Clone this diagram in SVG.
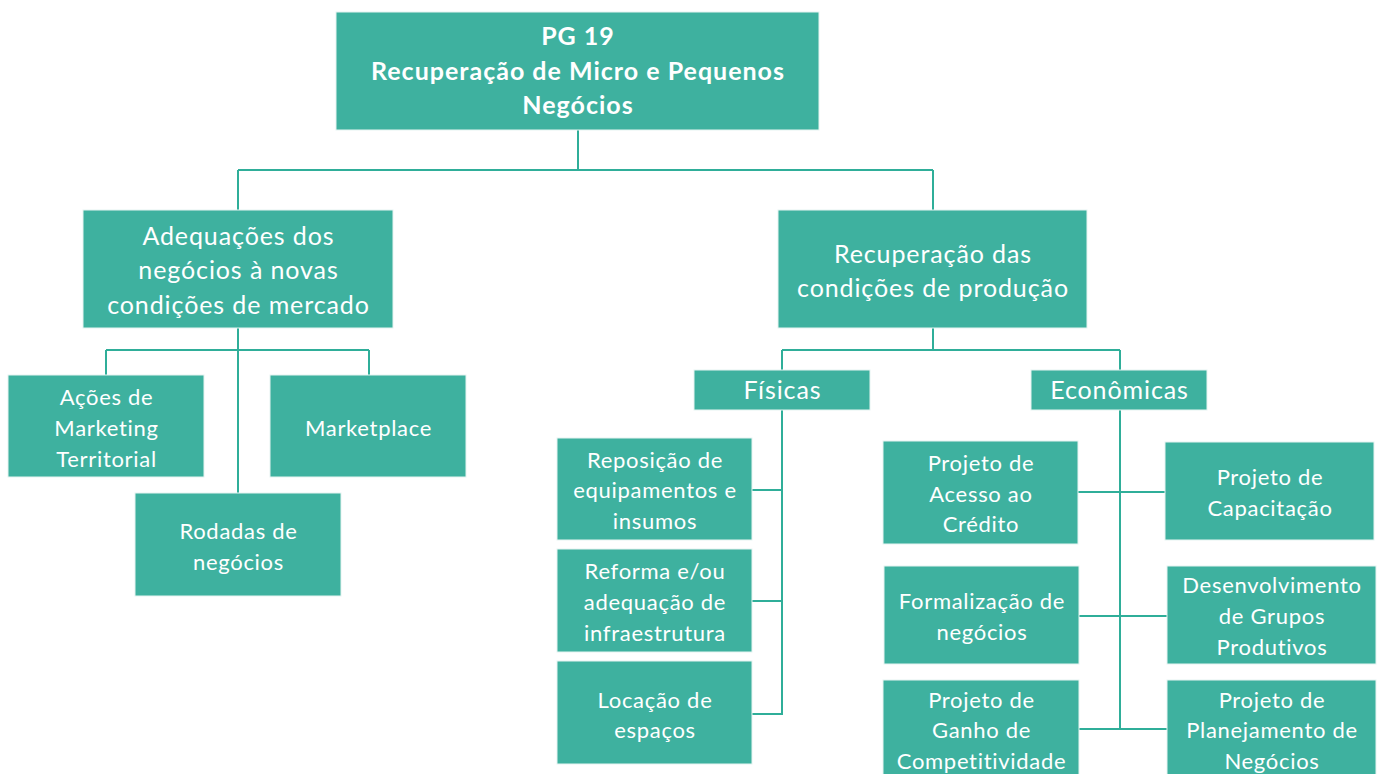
<svg xmlns="http://www.w3.org/2000/svg" width="1380" height="774" viewBox="0 0 1380 774">
<style>
.box{fill:#3EB19F;stroke:#E6F4F1;stroke-width:1}
.t{fill:#FFFFFF;font-family:Lato,"Open Sans","Liberation Sans",sans-serif;text-anchor:middle;font-variant-ligatures:none}
.b{font-weight:bold;font-size:25px;letter-spacing:1px}
.m{font-size:25px;letter-spacing:0.9px}
.s{font-size:22px;letter-spacing:0.7px}
.c{fill:none;stroke:#2FAE99;stroke-width:2}
</style>
<rect width="1380" height="774" fill="#FFFFFF"/>
<g id="connectors">
<path class="c" d="M578 130V170M238 170H933M238 170V210M933 170V210"/>
<path class="c" d="M238 328V493M106 350H369M106 350V375M369 350V375"/>
<path class="c" d="M933 328V350M782 350H1120M782 350V370M1120 350V370"/>
<path class="c" d="M782 410V714H752M752 490H782M752 601H782"/>
<path class="c" d="M1120 410V729M1078 492H1165M1079 616H1167M1079 729H1167"/>
</g>
<g id="n-root"><rect class="box" x="336" y="12" width="483" height="118"/>
<text class="t b" x="578" y="45">PG 19</text>
<text class="t b" x="578" y="80">Recuperação de Micro e Pequenos</text>
<text class="t b" x="578" y="114">Negócios</text></g>
<g id="n-adequacoes"><rect class="box" x="83" y="210" width="310" height="118"/>
<text class="t m" x="238.5" y="245">Adequações dos</text>
<text class="t m" x="238.5" y="279">negócios à novas</text>
<text class="t m" x="238.5" y="314">condições de mercado</text></g>
<g id="n-recuperacao"><rect class="box" x="778" y="210" width="309" height="118"/>
<text class="t m" x="933" y="263">Recuperação das</text>
<text class="t m" x="933" y="297">condições de produção</text></g>
<g id="n-acoes"><rect class="box" x="8" y="375" width="196" height="102"/>
<text class="t s" x="106.5" y="405">Ações de</text>
<text class="t s" x="106.5" y="436">Marketing</text>
<text class="t s" x="106.5" y="467">Territorial</text></g>
<g id="n-marketplace"><rect class="box" x="270" y="375" width="196" height="102"/>
<text class="t s" x="368.5" y="436">Marketplace</text></g>
<g id="n-rodadas"><rect class="box" x="135" y="493" width="206" height="103"/>
<text class="t s" x="238.5" y="539">Rodadas de</text>
<text class="t s" x="238.5" y="570">negócios</text></g>
<g id="n-fisicas"><rect class="box" x="694" y="370" width="176" height="40"/>
<text class="t m" x="782.5" y="399">Físicas</text></g>
<g id="n-economicas"><rect class="box" x="1031" y="370" width="176" height="40"/>
<text class="t m" x="1119.5" y="399">Econômicas</text></g>
<g id="n-reposicao"><rect class="box" x="557" y="438" width="195" height="102"/>
<text class="t s" x="655" y="468">Reposição de</text>
<text class="t s" x="655" y="498">equipamentos e</text>
<text class="t s" x="655" y="529">insumos</text></g>
<g id="n-reforma"><rect class="box" x="557" y="549" width="195" height="103"/>
<text class="t s" x="655" y="579">Reforma e/ou</text>
<text class="t s" x="655" y="610">adequação de</text>
<text class="t s" x="655" y="641">infraestrutura</text></g>
<g id="n-locacao"><rect class="box" x="557" y="661" width="195" height="103"/>
<text class="t s" x="655" y="708">Locação de</text>
<text class="t s" x="655" y="738">espaços</text></g>
<g id="n-credito"><rect class="box" x="883" y="441" width="195" height="103"/>
<text class="t s" x="981" y="471">Projeto de</text>
<text class="t s" x="981" y="502">Acesso ao</text>
<text class="t s" x="981" y="532">Crédito</text></g>
<g id="n-capacitacao"><rect class="box" x="1165" y="442" width="209" height="98"/>
<text class="t s" x="1270" y="485">Projeto de</text>
<text class="t s" x="1270" y="516">Capacitação</text></g>
<g id="n-formalizacao"><rect class="box" x="884" y="566" width="195" height="98"/>
<text class="t s" x="982" y="609">Formalização de</text>
<text class="t s" x="982" y="640">negócios</text></g>
<g id="n-grupos"><rect class="box" x="1167" y="566" width="209" height="98"/>
<text class="t s" x="1272" y="593">Desenvolvimento</text>
<text class="t s" x="1272" y="624">de Grupos</text>
<text class="t s" x="1272" y="655">Produtivos</text></g>
<g id="n-competitividade"><rect class="box" x="883" y="680" width="196" height="100"/>
<text class="t s" x="981.5" y="708">Projeto de</text>
<text class="t s" x="981.5" y="738">Ganho de</text>
<text class="t s" x="981.5" y="769">Competitividade</text></g>
<g id="n-planejamento"><rect class="box" x="1167" y="680" width="209" height="100"/>
<text class="t s" x="1272" y="708">Projeto de</text>
<text class="t s" x="1272" y="738">Planejamento de</text>
<text class="t s" x="1272" y="769">Negócios</text></g>
</svg>
